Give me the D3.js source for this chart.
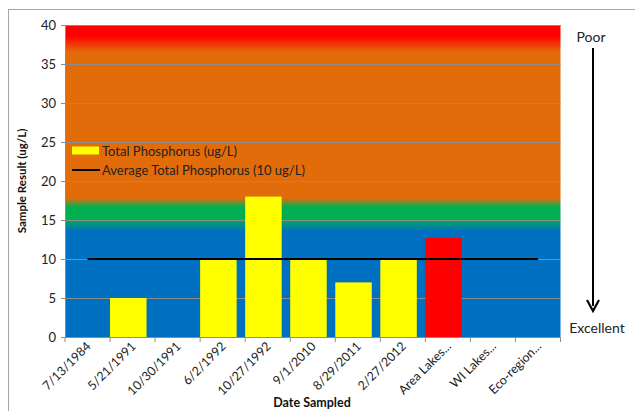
<!DOCTYPE html>
<html><head><meta charset="utf-8">
<script src="https://cdn.jsdelivr.net/npm/d3@7"></script>
<style>body{margin:0;background:#fff;}svg{display:block;font-family:Lato,"Open Sans",sans-serif;}</style>
</head><body>
<svg id="c" width="635" height="411"></svg>
<script>
const categories = ["7/13/1984","5/21/1991","10/30/1991","6/2/1992","10/27/1992","9/1/2010","8/29/2011","2/27/2012","Area Lakes...","WI Lakes...","Eco-region..."];
const values = [null,5,null,10,18,10,7,10,12.7,null,null];
const barColors = ["#FFFF00","#FFFF00","#FFFF00","#FFFF00","#FFFF00","#FFFF00","#FFFF00","#FFFF00","#FF0000","#FFFF00","#FFFF00"];
const averageValue = 10;
const yTicks = [0,5,10,15,20,25,30,35,40];

const svg = d3.select("#c");
const m = {l:65, r:560.5, t:25, b:337};
const x = d3.scaleBand().domain(categories).range([m.l, m.r]).padding(0);
const y = d3.scaleLinear().domain([0,40]).range([m.b, m.t]);

// chart border
svg.append("rect").attr("x",8.5).attr("y",9.5).attr("width",640).attr("height",420)
  .attr("fill","#fff").attr("stroke","#a6a6a6").attr("stroke-width",1);

// background gradient
const defs = svg.append("defs");
const g = defs.append("linearGradient").attr("id","bg")
  .attr("gradientUnits","userSpaceOnUse").attr("y1",m.t).attr("y2",m.b).attr("x1",0).attr("x2",0);
const H = m.b - m.t;
const stops = [[25,"#FF0000"],[36,"#FF0000"],[52,"#E36C0A"],[198,"#E36C0A"],[207,"#00B050"],[219,"#00B050"],[231,"#0070C0"],[337,"#0070C0"]];
stops.forEach(s=>g.append("stop").attr("offset",(s[0]-m.t)/H).attr("stop-color",s[1]));
svg.append("rect").attr("x",m.l).attr("y",m.t).attr("width",m.r-m.l).attr("height",H).attr("fill","url(#bg)");

// gridlines
svg.append("g").selectAll("line").data(yTicks.filter(d=>d>0)).join("line")
  .attr("x1",m.l).attr("x2",m.r).attr("y1",d=>Math.round(y(d))+0.5).attr("y2",d=>Math.round(y(d))+0.5)
  .attr("stroke","#8c8c8c").attr("stroke-width",1);

// bars
const bw = x.bandwidth()*0.81;
svg.append("g").selectAll("rect").data(categories.map((c,i)=>({c,v:values[i],col:barColors[i]})).filter(d=>d.v!=null)).join("rect")
  .attr("x",d=>x(d.c)).attr("width",bw)
  .attr("y",d=>y(d.v)).attr("height",d=>y(0)-y(d.v))
  .attr("fill",d=>d.col);

// average line
svg.append("line").attr("x1",x(categories[0])+x.bandwidth()/2).attr("x2",x(categories[categories.length-1])+x.bandwidth()/2)
  .attr("y1",y(averageValue)).attr("y2",y(averageValue)).attr("stroke","#000").attr("stroke-width",2);

// axes
const yAxis = d3.axisLeft(y).tickValues(yTicks).tickSize(4).tickPadding(5);
const ya = svg.append("g").attr("transform",`translate(${m.l},0)`).call(yAxis);
ya.select(".domain").attr("stroke","#8c8c8c");
ya.selectAll(".tick line").attr("stroke","#8c8c8c");
ya.selectAll("text").attr("font-size",13).attr("fill","#222").attr("font-family","Lato,'Open Sans',sans-serif");

const xa = svg.append("g").attr("transform",`translate(0,${m.b})`);
xa.append("line").attr("x1",m.l).attr("x2",m.r).attr("y1",0.5).attr("y2",0.5).attr("stroke","#8c8c8c");
xa.selectAll("line.t").data(d3.range(categories.length+1)).join("line").attr("class","t")
  .attr("x1",i=>m.l+i*x.bandwidth()).attr("x2",i=>m.l+i*x.bandwidth()).attr("y1",0).attr("y2",5).attr("stroke","#8c8c8c");
xa.selectAll("text").data(categories).join("text")
  .attr("transform",d=>`translate(${x(d)+x.bandwidth()/2+4},${10}) rotate(-45)`)
  .attr("text-anchor","end").attr("font-size",12.5).attr("fill","#222").text(d=>d);

// axis titles
svg.append("text").attr("transform","translate(26,181) rotate(-90)").attr("text-anchor","middle")
  .attr("font-size",11.5).attr("font-weight","bold").attr("fill","#111").text("Sample Result (ug/L)");
svg.append("text").attr("x",312).attr("y",407).attr("text-anchor","middle")
  .attr("font-size",12.5).attr("font-weight","bold").attr("fill","#111").text("Date Sampled");

// legend
svg.append("rect").attr("x",72).attr("y",146.5).attr("width",27).attr("height",8).attr("fill","#FFFF00");
svg.append("text").attr("x",102).attr("y",155.5).attr("font-size",13).attr("fill","#222").text("Total Phosphorus (ug/L)");
svg.append("line").attr("x1",72).attr("x2",100).attr("y1",170).attr("y2",170).attr("stroke","#000").attr("stroke-width",2);
svg.append("text").attr("x",102).attr("y",174.5).attr("font-size",13).attr("fill","#222").text("Average Total Phosphorus (10 ug/L)");

// Poor / Excellent arrow
svg.append("text").attr("x",591).attr("y",42).attr("text-anchor","middle").attr("font-size",14).attr("fill","#222").text("Poor");
svg.append("line").attr("x1",593).attr("x2",593).attr("y1",48).attr("y2",306).attr("stroke","#000").attr("stroke-width",2);
svg.append("path").attr("d","M587,300 L593,311 L599,300").attr("fill","none").attr("stroke","#000").attr("stroke-width",2.2);
svg.append("text").attr("x",597).attr("y",333).attr("text-anchor","middle").attr("font-size",14).attr("fill","#222").text("Excellent");
</script>
</body></html>
